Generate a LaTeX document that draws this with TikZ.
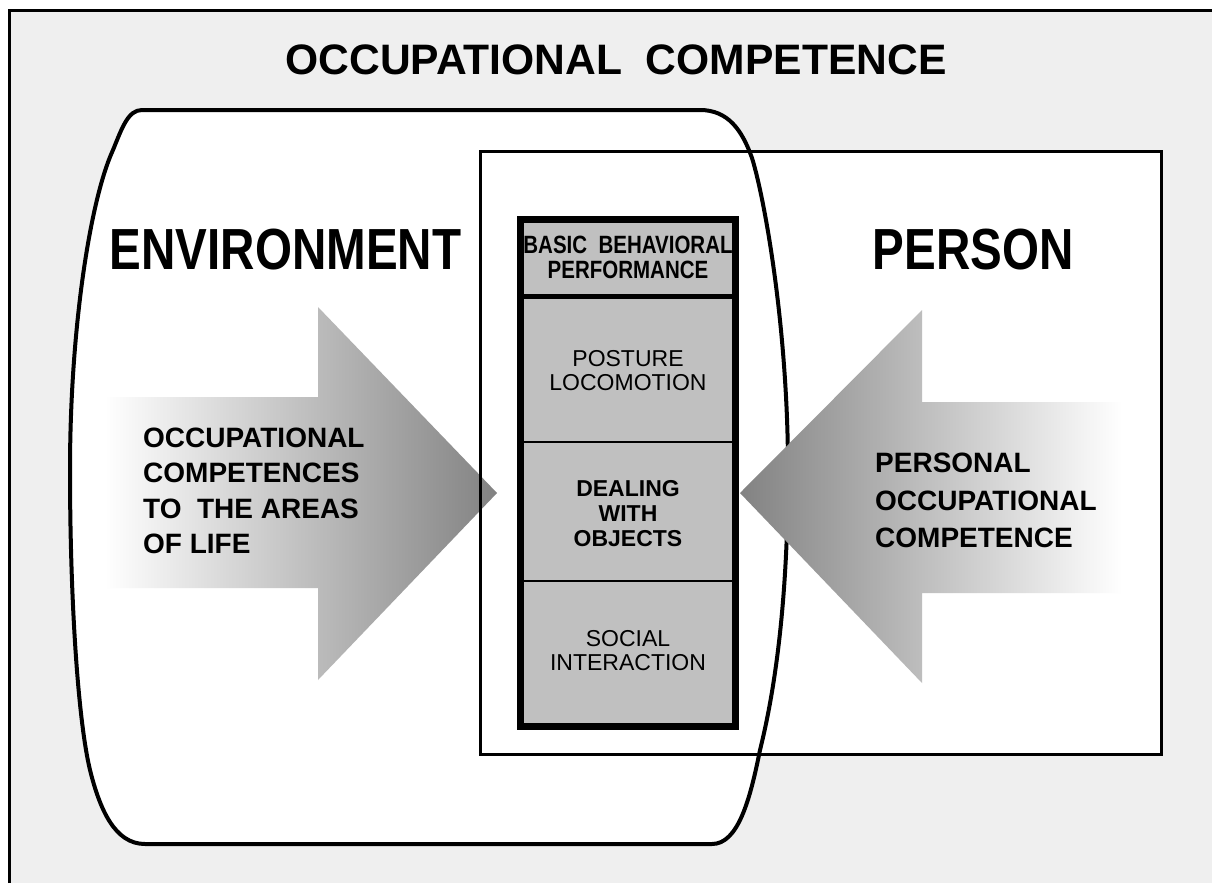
\documentclass[tikz,border=0pt]{standalone}
\usepackage{fontspec}
\setmainfont{Liberation Sans}
\newfontfamily\narrowfont[FakeStretch=0.82]{Liberation Sans}
\definecolor{framegray}{HTML}{EFEFEF}
\definecolor{boxgray}{HTML}{C0C0C0}
\definecolor{arrowdark}{HTML}{828282}
\begin{document}
\begin{tikzpicture}[x=1pt,y=-1pt,
  frameline/.style={line width=3pt},
  envline/.style={line width=4pt},
  personline/.style={line width=3pt},
  bigword/.style={inner sep=0pt,font=\narrowfont\bfseries\fontsize{58}{60}\selectfont},
  arrowtext/.style={inner sep=0pt,align=left,anchor=west},
  boxtext/.style={inner sep=0pt,align=center}]
\useasboundingbox (0,0) rectangle (1212,883);
% outer frame
\fill[framegray] (9.5,10.5) rectangle (1212,883);
\draw[frameline] (9.5,883) -- (9.5,10.5) -- (1212,10.5);
% environment shape and person rectangle (fills)
\def\envpath{(142,110) -- (700,110) .. controls (728,110) and (742,130) .. (752,158)
  .. controls (765,200) and (788,330) .. (788,470)
  .. controls (788,600) and (775,690) .. (760,750)
  .. controls (750,800) and (738,844) .. (712,844) -- (145,844)
  .. controls (115,844) and (100,810) .. (90,770)
  .. controls (78,720) and (70,600) .. (70,470)
  .. controls (70,330) and (90,200) .. (113,150)
  .. controls (122,128) and (128,110) .. (142,110) -- cycle}
\fill[white] \envpath;
\fill[white] (480,151) rectangle (1161,754);
\draw[envline,line join=round] \envpath;
% right arrow (under the person outline)
\shade[left color=arrowdark,right color=white]
  (740,493) -- (922,310) -- (922,402) -- (1122,402) -- (1122,593) -- (922,593) -- (922,683) -- cycle;
% left arrow
\shade[left color=white,right color=arrowdark]
  (105,397) -- (318,397) -- (318,307) -- (497,493) -- (318,680) -- (318,588) -- (105,588) -- cycle;
% person outline
\draw[personline] (480,151) rectangle (1161,754);
% central box
\fill[boxgray] (520.5,219.5) rectangle (735.5,726.5);
\draw[line width=1.5pt] (524,442) -- (732,442);
\draw[line width=1.5pt] (524,581) -- (732,581);
\draw[line width=7pt] (520.5,219.5) rectangle (735.5,726.5);
\draw[line width=5pt] (524,296) -- (732,296);
% texts
\node[inner sep=0pt,font=\bfseries\fontsize{42.6}{46}\selectfont] (title) at (616,60) {OCCUPATIONAL\ \ COMPETENCE};
\node[bigword] (env) at (285.5,250) {ENVIRONMENT};
\node[bigword] (person) at (973,250) {PERSON};
\node[arrowtext,font=\bfseries\fontsize{28}{35.5}\selectfont] (envtext) at (143,491) {OCCUPATIONAL\\COMPETENCES\\TO\ \ THE AREAS\\OF LIFE};
\node[arrowtext,font=\bfseries\fontsize{28}{37.5}\selectfont] (persontext) at (875,500.5) {PERSONAL\\OCCUPATIONAL\\COMPETENCE};
\node[boxtext,font=\narrowfont\bfseries\fontsize{25}{25}\selectfont] (basic) at (628,257.5) {BASIC\ \ BEHAVIORAL\\PERFORMANCE};
\node[boxtext,font=\fontsize{23}{23.5}\selectfont] (posture) at (628,370.5) {POSTURE\\LOCOMOTION};
\node[boxtext,font=\bfseries\fontsize{23}{25}\selectfont] (dealing) at (628,514) {DEALING\\WITH\\OBJECTS};
\node[boxtext,font=\fontsize{23}{23.5}\selectfont] (social) at (628,650.5) {SOCIAL\\INTERACTION};
\end{tikzpicture}
\end{document}
